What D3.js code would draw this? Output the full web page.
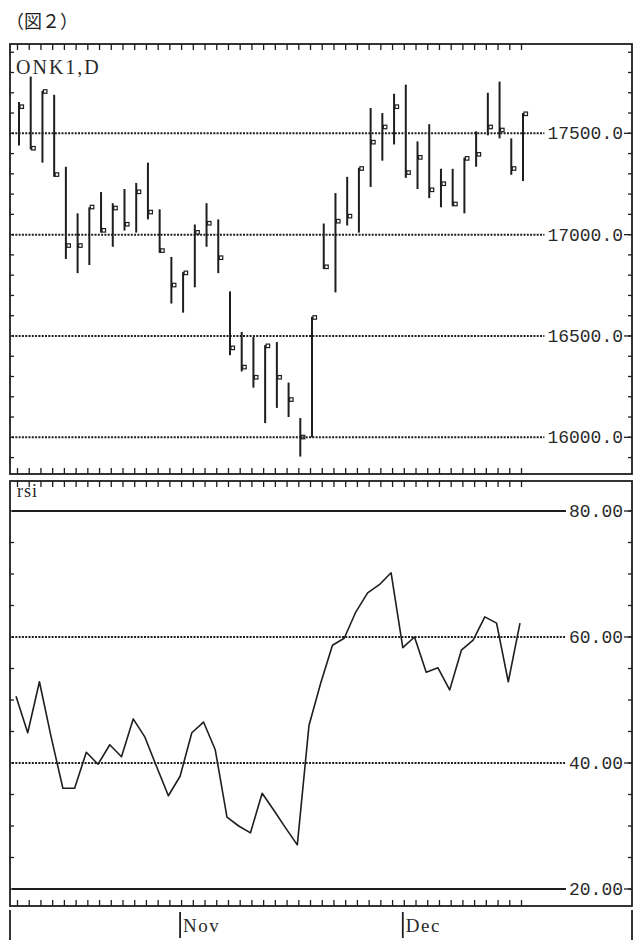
<!DOCTYPE html>
<html>
<head>
<meta charset="utf-8">
<script src="https://cdn.jsdelivr.net/npm/d3@7"></script>
<style>
  html, body { margin: 0; padding: 0; background: #fff; }
  svg { display: block; }
</style>
</head>
<body>
<svg id="chart" width="638" height="940"></svg>
<script>
// ---- data ----
const high = [17655,17780,17710,17690,17335,17105,17135,17210,17155,17225,17255,17355,17125,16890,16815,17050,17155,17075,16720,16520,16495,16455,16470,16270,16095,16595,17055,17205,17285,17330,17625,17600,17695,17740,17460,17545,17325,17325,17380,17510,17700,17755,17475,17600];
const low = [17440,17420,17355,17285,16880,16810,16850,17010,16940,17020,17010,17075,16910,16660,16615,16740,16940,16810,16405,16325,16245,16070,16145,16100,15905,16000,16830,16715,17045,17010,17235,17365,17445,17280,17225,17180,17135,17140,17105,17335,17490,17475,17295,17265];
const close = [17630,17425,17705,17295,16945,16945,17135,17020,17130,17050,17210,17110,16920,16750,16810,17010,17055,16885,16440,16345,16295,16450,16295,16185,16000,16590,16840,17065,17090,17325,17455,17530,17630,17305,17380,17220,17250,17150,17375,17395,17530,17515,17325,17595];
const rsi = [50.6,44.8,52.9,44.1,36.0,36.0,41.7,39.8,42.9,41.0,47.0,44.1,39.4,34.8,37.9,44.8,46.5,42.1,31.4,30.0,28.9,35.2,32.5,29.7,27.0,46.0,52.7,58.7,59.8,64.0,67.0,68.3,70.2,58.3,60.0,54.4,55.1,51.6,57.9,59.5,63.2,62.2,52.9,62.2];
const priceTicks = [17500, 17000, 16500, 16000];
const priceTickLabels = ["17500.0", "17000.0", "16500.0", "16000.0"];
const rsiTicks = [80, 60, 40, 20];
const rsiTickLabels = ["80.00", "60.00", "40.00", "20.00"];
const monthLabels = ["Nov", "Dec"];
const monthStartIndex = [14, 33];
const titleText = "（図２）";
const symbolText = "ONK1,D";
const rsiTitle = "rsi";

// ---- layout ----
const svg = d3.select("#chart");
const ink = "#1e1e1e";
const n = close.length;
const idx = d3.range(n);

const x = d3.scaleLinear().domain([0, n - 1]).range([19, 523]);
const yP = d3.scaleLinear().domain([16000, 17500]).range([437.3, 133.3]);
const yR = d3.scaleLinear().domain([20, 80]).range([889, 511]);

const P = {left: 10, right: 632, top: 44, bottom: 474};
const R = {left: 10, right: 632, top: 481, bottom: 906};

// title
svg.append("text").attr("x", 6).attr("y", 28)
  .attr("font-family", "'Noto Sans CJK JP', sans-serif").attr("font-size", 18)
  .attr("fill", ink).text(titleText);

function panelFrame(b) {
  svg.append("rect").attr("x", b.left).attr("y", b.top)
    .attr("width", b.right - b.left).attr("height", b.bottom - b.top)
    .attr("fill", "none").attr("stroke", ink).attr("stroke-width", 1.8);
  const g = svg.append("g").attr("stroke", ink).attr("stroke-width", 1.3);
  g.selectAll("line.t").data(idx).join("line").attr("class", "t")
    .attr("x1", d => x(d) - 1.5).attr("x2", d => x(d) - 1.5)
    .attr("y1", b.top).attr("y2", b.top + 6);
  g.selectAll("line.b").data(idx).join("line").attr("class", "b")
    .attr("x1", d => x(d) - 1.5).attr("x2", d => x(d) - 1.5)
    .attr("y1", b.bottom).attr("y2", b.bottom - 6);
}

function sideTicks(b, scale, values) {
  const g = svg.append("g").attr("stroke", ink).attr("stroke-width", 1.3);
  g.selectAll("line.l").data(values).join("line").attr("class", "l")
    .attr("x1", b.left).attr("x2", b.left + 4)
    .attr("y1", d => scale(d)).attr("y2", d => scale(d));
  g.selectAll("line.r").data(values).join("line").attr("class", "r")
    .attr("x1", b.right - 4).attr("x2", b.right)
    .attr("y1", d => scale(d)).attr("y2", d => scale(d));
}

function levelLines(b, scale, values, labels, styleFn) {
  values.forEach((v, i) => {
    const yy = scale(v);
    const t = svg.append("text").attr("x", 623).attr("y", yy + 6)
      .attr("text-anchor", "end")
      .attr("font-family", "'Liberation Mono', monospace").attr("font-size", 18)
      .attr("fill", "#2a2a2a").text(labels[i]);
    const w = t.node().getComputedTextLength();
    const ln = svg.append("line").attr("x1", b.left + 2).attr("x2", 623 - w - 3)
      .attr("y1", yy).attr("y2", yy).attr("stroke", ink);
    styleFn(v, ln);
    svg.append("line").attr("x1", 624).attr("x2", b.right)
      .attr("y1", yy).attr("y2", yy).attr("stroke", ink).attr("stroke-width", 1.3);
  });
}

// ---- price panel ----
panelFrame(P);
sideTicks(P, yP, d3.range(15900, 17950, 100).filter(v => yP(v) > P.top + 8 && yP(v) < P.bottom - 2));
levelLines(P, yP, priceTicks, priceTickLabels, (v, ln) =>
  ln.attr("stroke-width", 2).attr("stroke-dasharray", "2,1.3"));

svg.append("text").attr("x", 16).attr("y", 74)
  .attr("font-family", "'Liberation Serif', serif").attr("font-size", 20)
  .attr("letter-spacing", 2).attr("fill", "#2a2a2a").text(symbolText);

const bars = svg.append("g").attr("stroke", ink);
bars.selectAll("line.hl").data(idx).join("line").attr("class", "hl")
  .attr("x1", d => x(d)).attr("x2", d => x(d))
  .attr("y1", d => yP(high[d])).attr("y2", d => yP(low[d]))
  .attr("stroke-width", 2);
bars.selectAll("rect.cl").data(idx).join("rect").attr("class", "cl")
  .attr("x", d => x(d) + 1).attr("y", d => yP(close[d]) - 2)
  .attr("width", 3.5).attr("height", 3.5)
  .attr("fill", "none").attr("stroke-width", 1.2);

// ---- RSI panel ----
panelFrame(R);
sideTicks(R, yR, d3.range(20, 81, 5));
levelLines(R, yR, rsiTicks, rsiTickLabels, (v, ln) => {
  if (v === 80 || v === 20) ln.attr("stroke-width", 1.8);
  else ln.attr("stroke-width", 2).attr("stroke-dasharray", "2,1.3");
});

svg.append("text").attr("x", 17).attr("y", 497)
  .attr("font-family", "'Liberation Serif', serif").attr("font-size", 18)
  .attr("letter-spacing", 1).attr("fill", "#2a2a2a").text(rsiTitle);

svg.append("path").datum(idx)
  .attr("d", d3.line().x(d => x(d) - 3).y(d => yR(rsi[d])))
  .attr("fill", "none").attr("stroke", ink).attr("stroke-width", 1.6)
  .attr("stroke-linejoin", "round");

// ---- date strip ----
svg.append("line").attr("x1", 10).attr("x2", 10).attr("y1", 910).attr("y2", 940)
  .attr("stroke", ink).attr("stroke-width", 1.8);
svg.append("line").attr("x1", 632).attr("x2", 632).attr("y1", 910).attr("y2", 940)
  .attr("stroke", ink).attr("stroke-width", 1.8);
monthLabels.forEach((m, i) => {
  const xx = x(monthStartIndex[i]) - 3;
  svg.append("line").attr("x1", xx).attr("x2", xx).attr("y1", 912).attr("y2", 938)
    .attr("stroke", ink).attr("stroke-width", 1.8);
  svg.append("text").attr("x", xx + 3).attr("y", 932)
    .attr("font-family", "'Liberation Serif', serif").attr("font-size", 19)
    .attr("letter-spacing", 1.5).attr("fill", "#2a2a2a").text(m);
});
</script>
</body>
</html>
